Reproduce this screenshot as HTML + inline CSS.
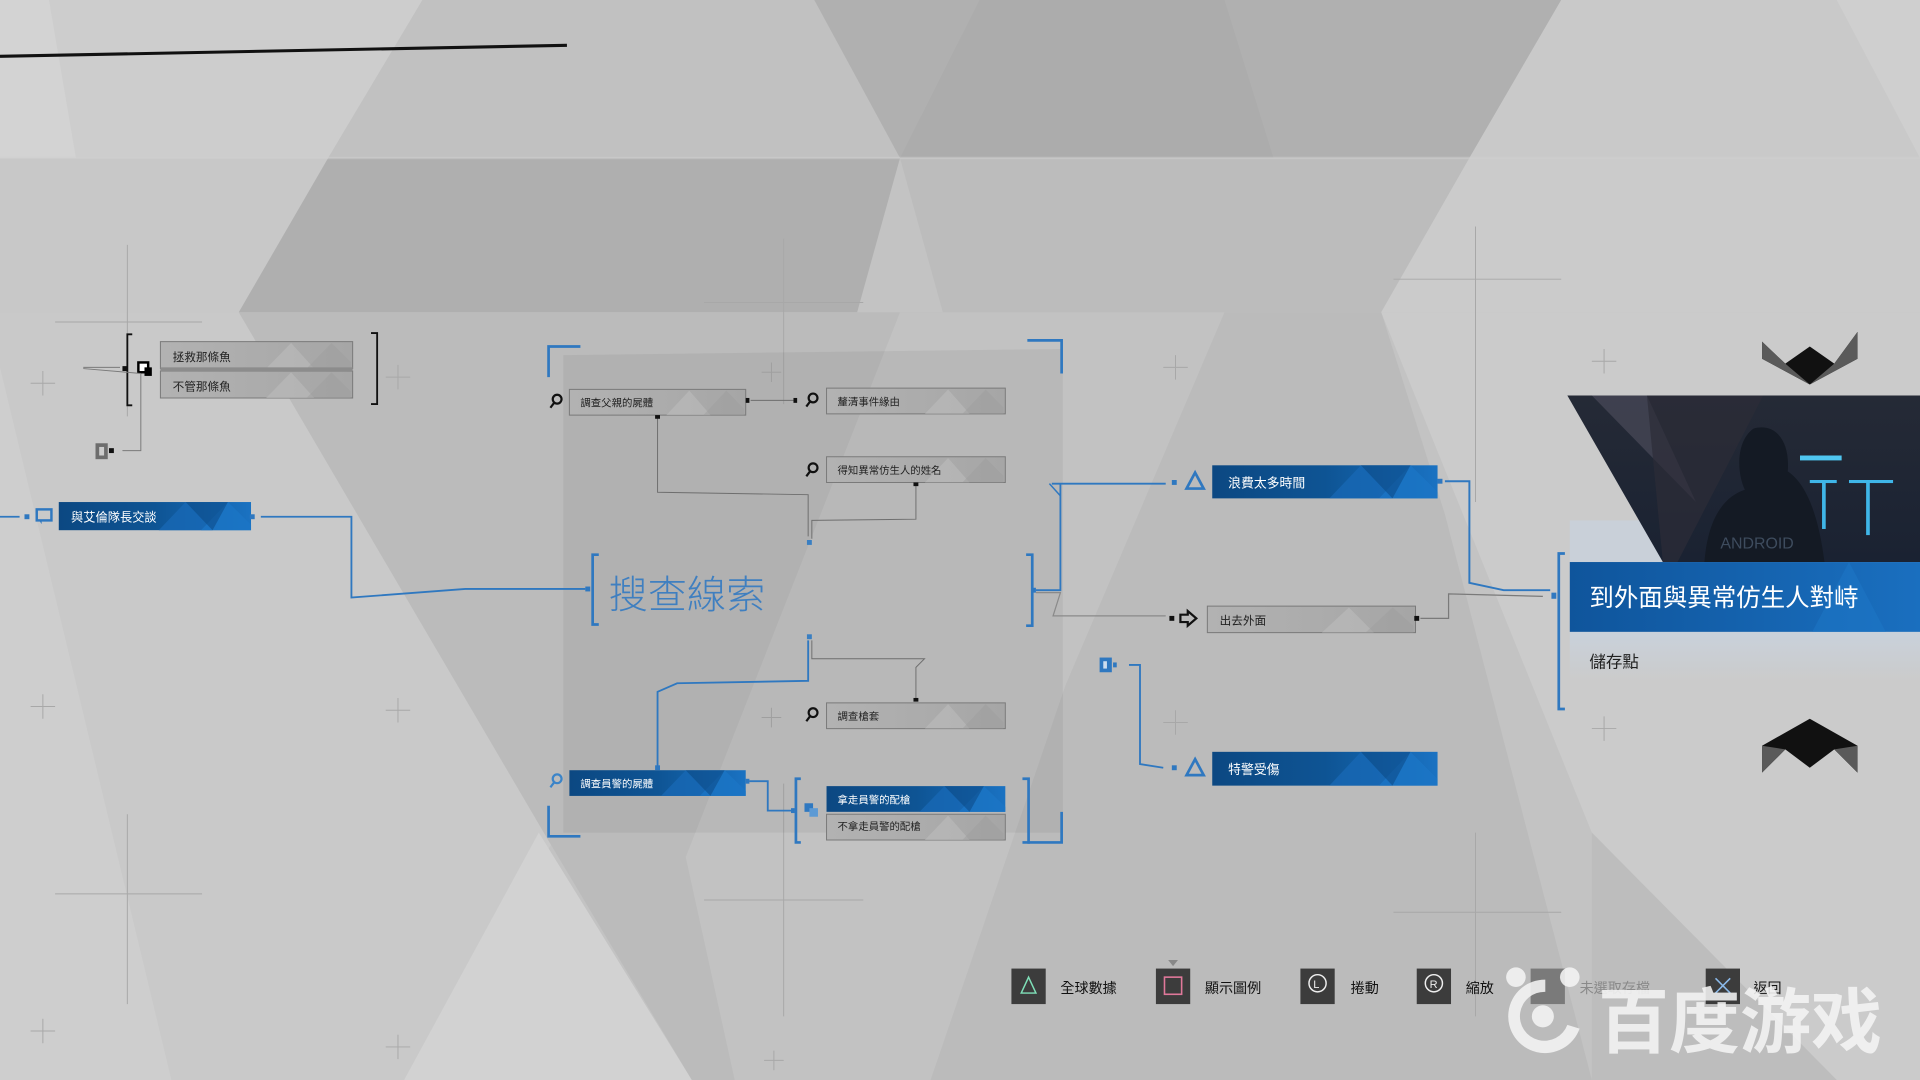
<!DOCTYPE html>
<html><head><meta charset="utf-8"><style>
html,body{margin:0;padding:0;width:1920px;height:1080px;overflow:hidden;background:#c4c4c4}
svg{display:block}
text{font-family:"Liberation Sans","Noto Sans CJK TC",sans-serif}
</style></head><body>
<svg width="1920" height="1080" viewBox="0 0 1568 882" preserveAspectRatio="none" xmlns="http://www.w3.org/2000/svg">
<defs>
<linearGradient id="bg" x1="0" x2="1" y1="0" y2="0"><stop offset="0" stop-color="#0c4882"/><stop offset="0.5" stop-color="#0e5494"/><stop offset="1" stop-color="#1a72c2"/></linearGradient>
<linearGradient id="gg" x1="0" x2="1" y1="0" y2="0"><stop offset="0" stop-color="#b2b2b2"/><stop offset="1" stop-color="#a6a6a6"/></linearGradient>
<linearGradient id="fb" x1="0" x2="1"><stop offset="0" stop-color="#0f559c"/><stop offset="1" stop-color="#1a6fbf"/></linearGradient>
<linearGradient id="glow" x1="0" y1="0" x2="0" y2="1"><stop offset="0" stop-color="#c8d4e2"/><stop offset="1" stop-color="#c8d4e2" stop-opacity="0"/></linearGradient>
<linearGradient id="img" x1="0" y1="0" x2="0" y2="1"><stop offset="0" stop-color="#252a36"/><stop offset="1" stop-color="#1a2232"/></linearGradient>
<g id="bn"><rect x="0" y="0" width="100" height="20" fill="url(#bg)"/><polygon points="52,20 66,0 80,20" fill="#1868b4" opacity="0.8"/><polygon points="74,20 88,0 100,16 100,20" fill="#1c76c6" opacity="0.8"/><polygon points="66,0 80,20 88,0" fill="#0d4c8a" opacity="0.6"/></g>
<g id="gn"><rect x="0" y="0" width="100" height="20" fill="url(#gg)" stroke="#7a7a7a" stroke-width="1" vector-effect="non-scaling-stroke"/><polygon points="55,20 68,1 80,20" fill="#bdbdbd" opacity="0.6"/><polygon points="76,20 89,1 99,15 99,20" fill="#9e9e9e" opacity="0.5"/></g>
</defs>
<rect width="1568" height="882" fill="#c3c3c3"/>
<polygon points="0,0 345,0 268,129 0,129" fill="#cdcdcd"/>
<polygon points="0,0 40,0 62,129 0,129" fill="#d3d3d3"/>
<polygon points="345,0 665,0 735,129 268,129" fill="#c1c1c1"/>
<polygon points="665,0 1275,0 1200,129 735,129" fill="#b0b0b0"/>
<polygon points="800,0 1000,0 1040,129 735,129" fill="#acacac"/>
<polygon points="1275,0 1568,0 1568,129 1200,129" fill="#c9c9c9"/>
<polygon points="1500,0 1568,0 1568,129" fill="#cfcfcf"/>
<polygon points="0,129 268,129 195,255 0,255" fill="#c8c8c8"/>
<polygon points="268,129 735,129 700,255 195,255" fill="#afafaf"/>
<polygon points="735,129 1200,129 1128,255 770,255" fill="#bcbcbc"/>
<polygon points="1200,129 1568,129 1568,255 1128,255" fill="#cbcbcb"/>
<polygon points="0,255 195,255 450,690 330,882 0,882" fill="#c9c9c9"/>
<polygon points="0,300 140,882 0,882" fill="#cecece"/>
<polygon points="330,882 440,680 565,882" fill="#d2d2d2"/>
<polygon points="195,255 1128,255 1180,420 1300,882 565,882 450,690" fill="#bbbbbb"/>
<polygon points="735,255 1000,255 870,560 760,882 600,882 560,700" fill="#c2c2c2"/>
<polygon points="1128,255 1568,255 1568,882 1500,882 1300,680" fill="#cbcbcb"/>
<polygon points="1300,680 1500,882 1300,882" fill="#bdbdbd"/>
<rect x="0" y="128" width="1568" height="2" fill="#d0d0d0" opacity="0.5"/>
<g stroke="#a8a8a8" stroke-width="0.8" fill="none">
<path d="M104 200V340M45 263H165"/><path d="M640 195V330M575 247H705"/><path d="M1205 185V410M1138 228H1275"/>
<path d="M104 665V820M45 730H165"/><path d="M640 640V830M575 735H705"/><path d="M1205 680V830M1138 745H1275"/>
<path d="M35 303V323M25 313H45"/><path d="M325 298V318M315 308H335"/><path d="M960 290V310M950 300H970"/><path d="M1310 285V305M1300 295H1320"/>
<path d="M35 567V587M25 577H45"/><path d="M325 570V590M315 580H335"/><path d="M960 580V600M950 590H970"/><path d="M1310 585V605M1300 595H1320"/>
<path d="M630 296V312M622 304H638"/><path d="M630 578V594M622 586H638"/>
<path d="M35 832V852M25 842H45"/><path d="M325 845V865M315 855H335"/><path d="M632 858V874M624 866H640"/>
</g>
<line x1="0" y1="46" x2="463" y2="37" stroke="#111" stroke-width="2.5"/>
<polygon points="460,290 868,285 868,680 460,680" fill="#000" opacity="0.05"/>
<g stroke="#2f78c0" stroke-width="2.2" fill="none">
<path d="M448,308V283H474"/><path d="M839,278H867V305"/><path d="M448,658V683H474"/><path d="M839,688H867V663"/>
<path d="M489,453H484V510H489"/><path d="M838,453H843V511H838"/>
<path d="M654,636H650V688H654"/><path d="M835,636H840V688H835"/>
<path d="M1278,452H1273V579H1278"/>
</g>
<g stroke="#111" stroke-width="1.5" fill="none"><path d="M108,273H104V331H108"/><path d="M303,272H308V330H303"/></g>
<use href="#gn" transform="translate(131,279) scale(1.57,1.1)"/>
<use href="#gn" transform="translate(131,303) scale(1.57,1.1)"/>
<rect x="131" y="300" width="157" height="3" fill="#8c8c8c"/>
<text x="141" y="295" font-size="9.5" fill="#222">拯救那條魚</text>
<text x="141" y="319" font-size="9.5" fill="#222">不管那條魚</text>
<rect x="113" y="296" width="8" height="8" fill="#fff" stroke="#000" stroke-width="2"/><rect x="118" y="300" width="6" height="7" fill="#000"/>
<rect x="100" y="299" width="4" height="4" fill="#111"/>
<path d="M68,300L98,300M68,301L115,305M115,305V368H100" stroke="#7a7a7a" stroke-width="0.8" fill="none"/>
<rect x="78" y="362" width="10" height="13" fill="#6d6d6d"/><rect x="81" y="365" width="4" height="7" fill="#ccc"/><rect x="89" y="366" width="4" height="4" fill="#111"/>
<path d="M0,422H16" stroke="#2f78c0" stroke-width="1.5"/><rect x="20" y="420" width="4" height="4" fill="#2f78c0"/>
<rect x="30" y="416" width="12" height="9" fill="none" stroke="#2f78c0" stroke-width="2"/><path d="M32,425l2,3v-3z" fill="#2f78c0"/>
<use href="#bn" transform="translate(48,410) scale(1.57,1.15)"/>
<text x="58" y="426" font-size="10" fill="#fff">與艾倫隊長交談</text>
<rect x="204" y="420" width="4" height="4" fill="#2f78c0"/>
<path d="M213,422H287V488L380,481H478" stroke="#2f78c0" stroke-width="1.5" fill="none"/>
<rect x="478" y="479" width="4" height="4" fill="#2f78c0"/>
<text x="497" y="497" font-size="32" fill="#3f7fc0" font-weight="300">搜查線索</text>
<g fill="none" stroke="#111" stroke-width="1.8">
<circle cx="455" cy="326" r="3.6"/><path d="M452.5,329l-3,4"/>
<circle cx="664" cy="325" r="3.6"/><path d="M661.5,328l-3,4"/>
<circle cx="664" cy="382" r="3.6"/><path d="M661.5,385l-3,4"/>
<circle cx="664" cy="582" r="3.6"/><path d="M661.5,585l-3,4"/>
</g>
<g fill="none" stroke="#3b84c8" stroke-width="1.8"><circle cx="455" cy="636" r="3.6"/><path d="M452.5,639l-3,4"/></g>
<use href="#gn" transform="translate(465,318) scale(1.44,1.05)"/>
<text x="474" y="332" font-size="8.5" fill="#222">調查父親的屍體</text>
<use href="#gn" transform="translate(675,317) scale(1.46,1.05)"/>
<text x="684" y="331" font-size="8.5" fill="#222">釐清事件緣由</text>
<use href="#gn" transform="translate(675,373) scale(1.46,1.05)"/>
<text x="684" y="387" font-size="8.5" fill="#222">得知異常仿生人的姓名</text>
<use href="#gn" transform="translate(675,574) scale(1.46,1.05)"/>
<text x="684" y="588" font-size="8.5" fill="#222">調查槍套</text>
<use href="#bn" transform="translate(465,629) scale(1.44,1.05)"/>
<text x="474" y="643" font-size="8.5" fill="#fff">調查員警的屍體</text>
<use href="#bn" transform="translate(675,642) scale(1.46,1.05)"/>
<text x="684" y="656" font-size="8.5" fill="#fff">拿走員警的配槍</text>
<use href="#gn" transform="translate(675,665) scale(1.46,1.05)"/>
<text x="684" y="678" font-size="8.5" fill="#222">不拿走員警的配槍</text>
<g stroke="#6e6e6e" stroke-width="0.8" fill="none">
<path d="M613,327H648"/><path d="M537,341V402L660,404V438"/><path d="M748,396V424L663,425V440"/>
<path d="M663,523V538H755L748,545V571"/>
</g>
<g fill="#111"><rect x="609" y="325" width="3" height="4"/><rect x="648" y="325" width="3" height="4"/><rect x="535" y="339" width="4" height="3"/><rect x="746" y="394" width="4" height="3"/><rect x="746" y="570" width="4" height="3"/></g>
<rect x="659" y="441" width="4" height="4" fill="#3a7fc2"/><rect x="659" y="518" width="4" height="4" fill="#3a7fc2"/>
<g stroke="#2f78c0" stroke-width="1.5" fill="none">
<path d="M660,523V556L553,558L537,565V627"/>
<path d="M612,638H627V662H646"/>
</g>
<rect x="535" y="625" width="4" height="4" fill="#2f78c0"/><rect x="609" y="636" width="3" height="4" fill="#2f78c0"/><rect x="646" y="660" width="3" height="4" fill="#2f78c0"/>
<rect x="657" y="656" width="7" height="7" fill="#2f78c0"/><rect x="661" y="660" width="7" height="7" fill="#5d9ad4"/>
<rect x="843" y="480" width="3" height="4" fill="#2f78c0"/>
<path d="M846,482H866V395L859,395M859,395H952" stroke="#2f78c0" stroke-width="1.5" fill="none"/>
<path d="M857,395L866,405" stroke="#2f78c0" stroke-width="1.2" fill="none"/>
<path d="M846,484H866L860,503H952" stroke="#8a8a8a" stroke-width="1" fill="none"/>
<rect x="957" y="392" width="4" height="4" fill="#2f78c0"/>
<polygon points="976,386 983,399 969,399" fill="none" stroke="#2f78c0" stroke-width="2.2"/>
<use href="#bn" transform="translate(990,380) scale(1.84,1.35)"/>
<text x="1003" y="398" font-size="10.5" fill="#fff">浪費太多時間</text>
<rect x="1174" y="391" width="4" height="4" fill="#2f78c0"/>
<path d="M1180,393H1200V476L1228,482H1266" stroke="#2f78c0" stroke-width="1.6" fill="none"/>
<rect x="955" y="503" width="4" height="4" fill="#111"/>
<path d="M964,502H970V499L977,505L970,511V508H964Z" fill="none" stroke="#111" stroke-width="1.8"/>
<use href="#gn" transform="translate(986,495) scale(1.7,1.08)"/>
<text x="996" y="510" font-size="9.5" fill="#222">出去外面</text>
<rect x="1155" y="503" width="4" height="4" fill="#111"/>
<path d="M1160,505H1183V485L1260,487" stroke="#7a7a7a" stroke-width="1" fill="none"/>
<rect x="1267" y="484" width="4" height="5" fill="#2f78c0"/>
<rect x="898" y="537" width="10" height="12" fill="#2f78c0"/><rect x="901" y="540" width="3" height="6" fill="#cde"/><rect x="909" y="541" width="3" height="4" fill="#2f78c0"/>
<path d="M922,543H931V624L950,627" stroke="#2f78c0" stroke-width="1.5" fill="none"/>
<rect x="957" y="625" width="4" height="4" fill="#2f78c0"/>
<polygon points="976,620 983,633 969,633" fill="none" stroke="#2f78c0" stroke-width="2.2"/>
<use href="#bn" transform="translate(990,614) scale(1.84,1.38)"/>
<text x="1003" y="632" font-size="10.5" fill="#fff">特警受傷</text>
<!-- final node -->
<rect x="1282" y="425" width="286" height="34" fill="#c8d4e2" opacity="0.6"/>
<rect x="1282" y="516" width="286" height="40" fill="url(#glow)" opacity="0.7"/>
<polygon points="1280,323 1568,323 1568,459 1358,459" fill="url(#img)"/>
<polygon points="1300,323 1345,323 1385,410" fill="#4a4a5a" opacity="0.7"/>
<polygon points="1345,323 1440,323 1370,459 1358,459" fill="#2c2c38" opacity="0.7"/>
<path d="M1392,459 C1395,420 1410,405 1425,400 C1418,385 1418,360 1432,350 C1450,345 1462,360 1460,385 C1475,395 1485,420 1490,459Z" fill="#141a24"/>
<rect x="1470" y="372" width="34" height="4" fill="#4fc6f0"/>
<rect x="1478" y="392" width="22" height="2.5" fill="#3fb6e8"/><rect x="1488" y="392" width="3" height="40" fill="#3fb6e8"/>
<rect x="1510" y="392" width="36" height="2.5" fill="#3fb6e8"/><rect x="1524" y="392" width="3" height="45" fill="#3fb6e8"/>
<text x="1405" y="448" font-size="13" fill="#3e4c5e">ANDROID</text>
<rect x="1282" y="459" width="286" height="57" fill="url(#fb)"/>
<polygon points="1480,516 1510,459 1540,516" fill="#1e78c8" opacity="0.5"/>
<text x="1298" y="495" font-size="20" fill="#fff">到外面與異常仿生人對峙</text>
<text x="1298" y="545" font-size="13.5" fill="#222">儲存點</text>
<polygon points="1439,279 1458,297 1478,283 1498,297 1517,271 1517,293 1478,314 1439,293" fill="#111"/>
<polygon points="1439,279 1458,297 1478,314 1439,293" fill="#5a5a5a"/>
<polygon points="1517,271 1498,297 1478,314 1517,293" fill="#5a5a5a"/>
<polygon points="1478,587 1517,609 1517,631 1498,612 1478,627 1458,612 1439,631 1439,609" fill="#111"/>
<polygon points="1439,609 1458,612 1439,631" fill="#5a5a5a"/><polygon points="1517,609 1498,612 1517,631" fill="#5a5a5a"/>
<rect x="826" y="791" width="28" height="29" fill="#3c3c3c"/><polygon points="840,798 846,811 834,811" fill="none" stroke="#7fe0b8" stroke-width="1.2"/>
<text x="866" y="811" font-size="11.5" fill="#111">全球數據</text>
<rect x="944" y="791" width="28" height="29" fill="#3c3c3c"/><rect x="951" y="798" width="14" height="14" fill="none" stroke="#e0789a" stroke-width="1.3"/>
<polygon points="954,784 962,784 958,789" fill="#888"/>
<text x="984" y="811" font-size="11.5" fill="#111">顯示圖例</text>
<rect x="1062" y="791" width="28" height="29" fill="#3c3c3c"/><circle cx="1076" cy="803" r="7" fill="none" stroke="#eee" stroke-width="1.2"/><text x="1072.5" y="807" font-size="9" fill="#eee">L</text>
<text x="1103" y="811" font-size="11.5" fill="#111">捲動</text>
<rect x="1157" y="791" width="28" height="29" fill="#3c3c3c"/><circle cx="1171" cy="803" r="7" fill="none" stroke="#eee" stroke-width="1.2"/><text x="1167.5" y="807" font-size="9" fill="#eee">R</text>
<text x="1197" y="811" font-size="11.5" fill="#111">縮放</text>
<rect x="1250" y="791" width="28" height="29" fill="#7a7a7a"/>
<text x="1290" y="811" font-size="11.5" fill="#8a8a8a">未選取存檔</text>
<rect x="1393" y="791" width="28" height="29" fill="#3c3c3c"/><path d="M1401,799l12,12m0,-12l-12,12" stroke="#8ab8e8" stroke-width="1.3"/>
<text x="1432" y="811" font-size="11.5" fill="#111">返回</text>
<g opacity="0.88" fill="#f4f4f4">
<path d="M1262,800a30,30 0 1,0 28,40l-10,-3a20,20 0 1,1 -18,-27z"/>
<circle cx="1260" cy="830" r="9"/><circle cx="1238" cy="798" r="8"/><circle cx="1282" cy="798" r="8"/>
<text x="1305" y="855" font-size="58" font-weight="bold">百度游戏</text>
</g>
</svg>
</body></html>
